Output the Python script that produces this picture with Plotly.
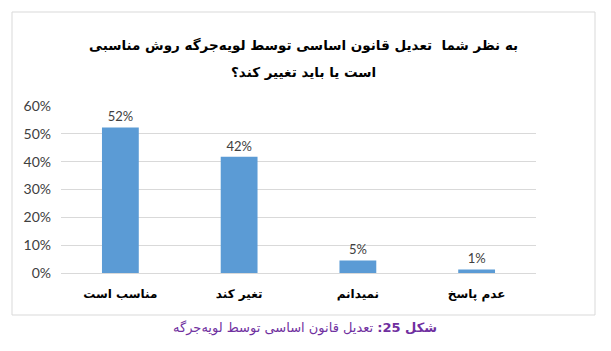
import plotly.graph_objects as go

categories = ["مناسب است", "تغیر کند", "نمیدانم", "عدم پاسخ"]
values = [0.523, 0.418, 0.045, 0.013]
value_labels = ["52%", "42%", "5%", "1%"]
y_ticks = [0, 0.1, 0.2, 0.3, 0.4, 0.5, 0.6]
y_tick_labels = ["0%", "10%", "20%", "30%", "40%", "50%", "60%"]
title_lines = ["به نظر شما  تعدیل قانون اساسی توسط لویه‌جرگه روش مناسبی", "است یا باید تغییر کند؟"]
caption_num = "25"
caption_text = "<b>شکل " + caption_num + ":</b> تعدیل قانون اساسی توسط لویه‌جرگه"

W, H = 611, 351
L, R, T, B = 61, 75, 106, 78
ph = H - T - B
pw = W - L - R

def px_x(p):
    return (p - L) / pw

def px_y(p):
    return (H - B - p) / ph

fig = go.Figure()
fig.add_trace(go.Bar(
    x=categories, y=values,
    marker=dict(color="#5B9BD5", line=dict(width=0)),
    text=value_labels, textposition="outside",
    textfont=dict(family="Lato, Open Sans, sans-serif", size=13, color="#404040"),
    cliponaxis=False,
))

fig.update_layout(
    width=W, height=H,
    margin=dict(l=L, r=R, t=T, b=B),
    paper_bgcolor="white", plot_bgcolor="white",
    showlegend=False,
    bargap=0.69,
    xaxis=dict(
        tickmode="array", tickvals=categories,
        ticktext=["<b>" + c + "</b>" for c in categories],
        tickfont=dict(family="DejaVu Sans, sans-serif", size=12, color="#000000"),
        showgrid=False, showline=True, linecolor="#d9d9d9", ticks="",
        ticklabelstandoff=10,
    ),
    yaxis=dict(
        range=[0, 0.6], tickmode="array", tickvals=y_ticks, ticktext=y_tick_labels,
        tickfont=dict(family="Lato, Open Sans, sans-serif", size=14, color="#404040"),
        showgrid=True, gridcolor="#d9d9d9", gridwidth=1, zeroline=False,
        showline=False, ticks="", ticklabelstandoff=9,
    ),
)

# title lines
for line, yp in zip(title_lines, [45, 72]):
    fig.add_annotation(
        text="<b>" + line + "</b>", x=px_x(303), y=px_y(yp),
        xref="paper", yref="paper", xanchor="center", yanchor="middle",
        showarrow=False,
        font=dict(family="DejaVu Sans, sans-serif", size=13.5, color="#000000"),
    )

# caption
fig.add_annotation(
    text=caption_text, x=px_x(305), y=px_y(328),
    xref="paper", yref="paper", xanchor="center", yanchor="middle",
    showarrow=False,
    font=dict(family="DejaVu Sans, sans-serif", size=13, color="#7030A0"),
)

# chart frame
fig.add_shape(type="rect", xref="paper", yref="paper",
              x0=px_x(12), x1=px_x(595), y0=px_y(315), y1=px_y(12),
              line=dict(color="#d9d9d9", width=1), fillcolor="rgba(0,0,0,0)")

fig.write_html("out.html")
